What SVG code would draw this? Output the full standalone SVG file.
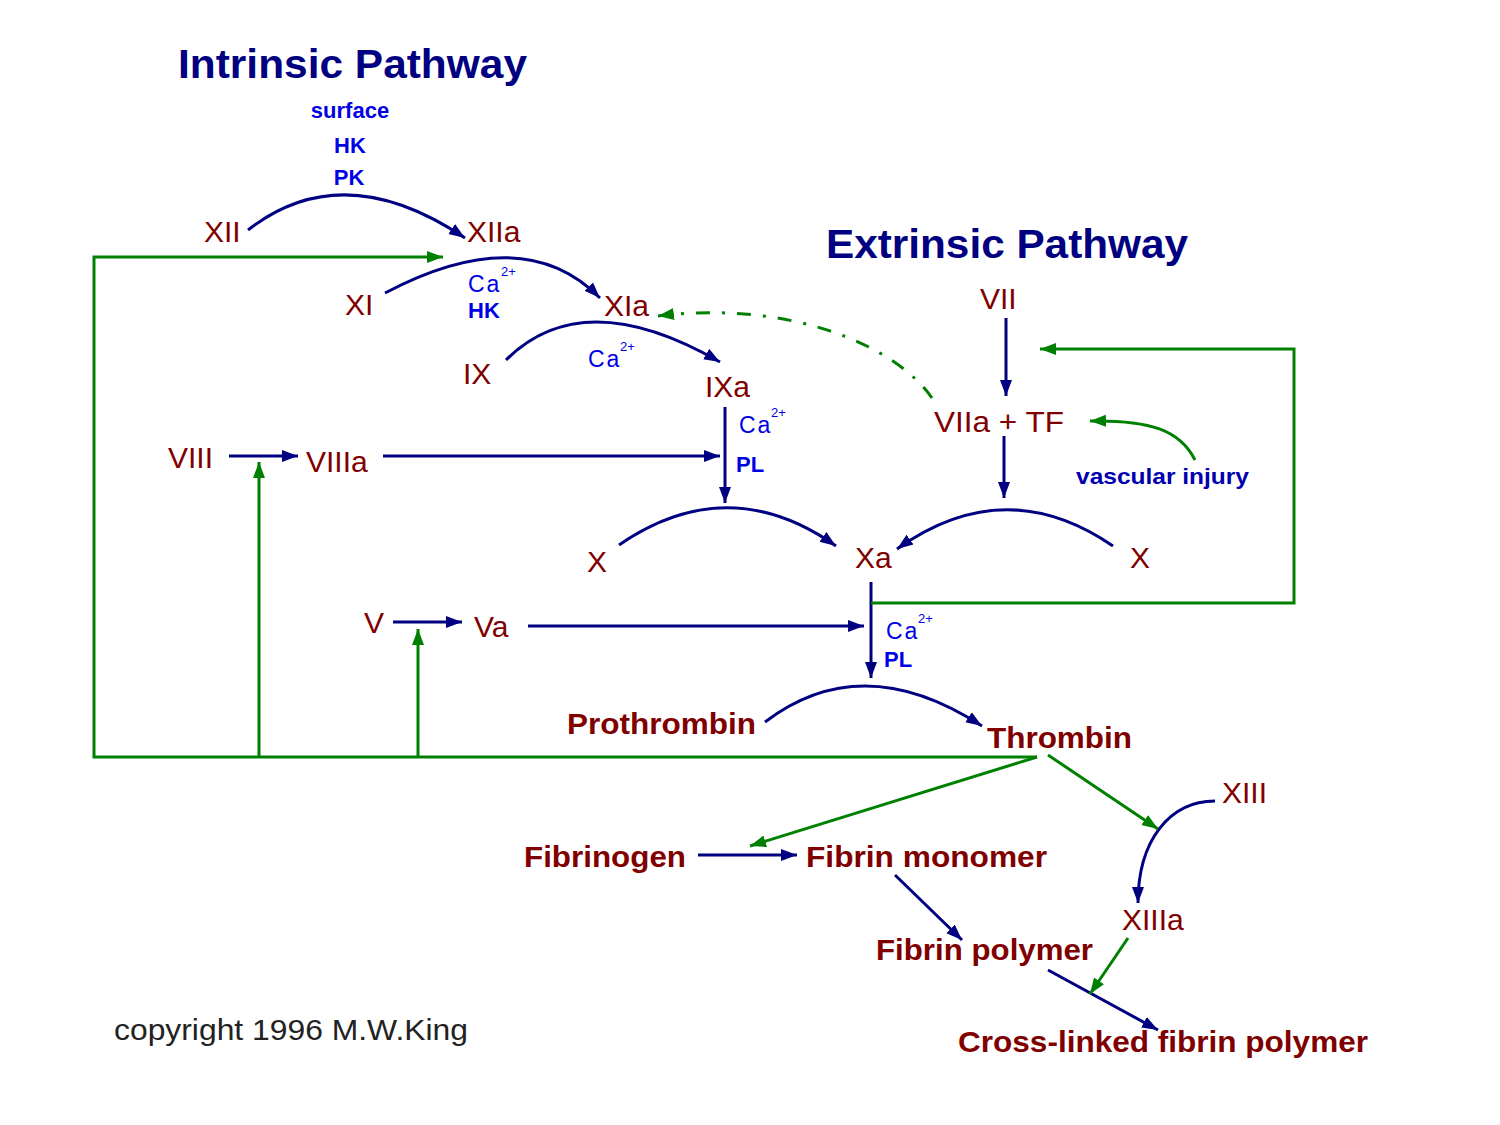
<svg xmlns="http://www.w3.org/2000/svg" width="1500" height="1125" viewBox="0 0 1500 1125">
<style>
.n{font-family:"Liberation Sans",Arial,sans-serif;font-size:30px;fill:#800000}
.b{font-weight:bold}
.t{font-family:"Liberation Sans",Arial,sans-serif;font-size:40px;font-weight:bold;fill:#000080}
.c{font-family:"Liberation Sans",Arial,sans-serif;font-size:22px;font-weight:bold;fill:#0000e6}
.ca{font-family:"Liberation Sans",Arial,sans-serif;font-size:23px;fill:#0000e6}
.sup{font-family:"Liberation Sans",Arial,sans-serif;font-size:13px;fill:#0000e6}
.nv{fill:none;stroke:#000080;stroke-width:3}
.gr{fill:none;stroke:#008000;stroke-width:3}
</style>
<defs>
<marker id="an" markerUnits="userSpaceOnUse" markerWidth="18" markerHeight="14" refX="16" refY="7" orient="auto"><path d="M0,1 L16,7 L0,13 Z" fill="#000080"/></marker>
<marker id="ag" markerUnits="userSpaceOnUse" markerWidth="18" markerHeight="14" refX="16" refY="7" orient="auto"><path d="M0,1 L16,7 L0,13 Z" fill="#008000"/></marker>
</defs>
<rect width="1500" height="1125" fill="#fff"/>

<g id="connectors">
<!-- navy conversions -->
<path class="nv" d="M248,230 Q343,156 465,238" marker-end="url(#an)"/>
<path class="nv" d="M385,293 Q523,220 600,298" marker-end="url(#an)"/>
<path class="nv" d="M506,360 Q583,283 720,362" marker-end="url(#an)"/>
<path class="nv" d="M725,407 L725,503" marker-end="url(#an)"/>
<path class="nv" d="M229,456 L298,456" marker-end="url(#an)"/>
<path class="nv" d="M383,456 L720,456" marker-end="url(#an)"/>
<path class="nv" d="M619,545 Q728,470 836,546" marker-end="url(#an)"/>
<path class="nv" d="M1113,546 Q1005,472 897,549" marker-end="url(#an)"/>
<path class="nv" d="M1006,318 L1006,396" marker-end="url(#an)"/>
<path class="nv" d="M1004,436 L1004,498" marker-end="url(#an)"/>
<path class="nv" d="M871,582 L871,678" marker-end="url(#an)"/>
<path class="nv" d="M393,622 L462,622" marker-end="url(#an)"/>
<path class="nv" d="M528,626 L864,626" marker-end="url(#an)"/>
<path class="nv" d="M765,722 Q862,648 982,726" marker-end="url(#an)"/>
<path class="nv" d="M698,855 L797,855" marker-end="url(#an)"/>
<path class="nv" d="M895,875 L962,940" marker-end="url(#an)"/>
<path class="nv" d="M1048,970 L1158,1030" marker-end="url(#an)"/>
<path class="nv" d="M1215,801 C1170,801 1138,840 1138,903" marker-end="url(#an)"/>
<!-- green feedback -->
<path class="gr" d="M1037,757 L94,757 L94,257 L443,257" marker-end="url(#ag)"/>
<path class="gr" d="M259,757 L259,462" marker-end="url(#ag)"/>
<path class="gr" d="M418,757 L418,629" marker-end="url(#ag)"/>
<path class="gr" d="M871,603 L1294,603 L1294,349 L1040,349" marker-end="url(#ag)"/>
<path class="gr" d="M932,398 C895,345 790,300 658,316" stroke-dasharray="14 12 3 12" marker-end="url(#ag)"/>
<path class="gr" d="M1195,460 C1180,430 1150,420 1090,421" marker-end="url(#ag)"/>
<path class="gr" d="M1037,757 L750,846" marker-end="url(#ag)"/>
<path class="gr" d="M1048,755 L1158,829" marker-end="url(#ag)"/>
<path class="gr" d="M1128,938 L1090,994" marker-end="url(#ag)"/>
</g>

<g id="titles">
<text class="t" x="178" y="78" textLength="349" lengthAdjust="spacingAndGlyphs">Intrinsic Pathway</text>
<text class="t" x="826" y="258" textLength="362" lengthAdjust="spacingAndGlyphs">Extrinsic Pathway</text>
</g>

<g id="cofactors">
<text class="c" x="350" y="118" text-anchor="middle">surface</text>
<text class="c" x="350" y="153" text-anchor="middle">HK</text>
<text class="c" x="349" y="185" text-anchor="middle">PK</text>
<text class="ca" x="468" y="292" letter-spacing="2">Ca</text><text class="sup" x="501" y="276">2+</text>
<text class="c" x="468" y="318">HK</text>
<text class="ca" x="588" y="367" letter-spacing="2">Ca</text><text class="sup" x="620" y="351">2+</text>
<text class="ca" x="739" y="433" letter-spacing="2">Ca</text><text class="sup" x="771" y="417">2+</text>
<text class="c" x="736" y="472">PL</text>
<text class="ca" x="886" y="639" letter-spacing="2">Ca</text><text class="sup" x="918" y="623">2+</text>
<text class="c" x="884" y="667">PL</text>
<text class="c" x="1076" y="484" fill="#0000b0" style="fill:#0000b0" textLength="173" lengthAdjust="spacingAndGlyphs">vascular injury</text>
</g>

<g id="node-XII"><text class="n" x="204" y="242">XII</text></g>
<g id="node-XIIa"><text class="n" x="467" y="242">XIIa</text></g>
<g id="node-XI"><text class="n" x="345" y="315">XI</text></g>
<g id="node-XIa"><text class="n" x="604" y="316">XIa</text></g>
<g id="node-IX"><text class="n" x="463" y="384">IX</text></g>
<g id="node-IXa"><text class="n" x="705" y="397">IXa</text></g>
<g id="node-VIII"><text class="n" x="168" y="468">VIII</text></g>
<g id="node-VIIIa"><text class="n" x="306" y="472">VIIIa</text></g>
<g id="node-X-left"><text class="n" x="587" y="572">X</text></g>
<g id="node-Xa"><text class="n" x="855" y="568">Xa</text></g>
<g id="node-X-right"><text class="n" x="1130" y="568">X</text></g>
<g id="node-VII"><text class="n" x="980" y="309">VII</text></g>
<g id="node-VIIa-TF"><text class="n" x="934" y="432" textLength="130" lengthAdjust="spacingAndGlyphs">VIIa + TF</text></g>
<g id="node-V"><text class="n" x="364" y="633">V</text></g>
<g id="node-Va"><text class="n" x="474" y="637">Va</text></g>
<g id="node-Prothrombin"><text class="n b" x="567" y="734" textLength="189" lengthAdjust="spacingAndGlyphs">Prothrombin</text></g>
<g id="node-Thrombin"><text class="n b" x="987" y="748" textLength="145" lengthAdjust="spacingAndGlyphs">Thrombin</text></g>
<g id="node-XIII"><text class="n" x="1222" y="803">XIII</text></g>
<g id="node-Fibrinogen"><text class="n b" x="524" y="867" textLength="162" lengthAdjust="spacingAndGlyphs">Fibrinogen</text></g>
<g id="node-Fibrin-monomer"><text class="n b" x="806" y="867" textLength="241" lengthAdjust="spacingAndGlyphs">Fibrin monomer</text></g>
<g id="node-XIIIa"><text class="n" x="1122" y="930">XIIIa</text></g>
<g id="node-Fibrin-polymer"><text class="n b" x="876" y="960" textLength="217" lengthAdjust="spacingAndGlyphs">Fibrin polymer</text></g>
<g id="node-Cross-linked"><text class="n b" x="958" y="1052" textLength="410" lengthAdjust="spacingAndGlyphs">Cross-linked fibrin polymer</text></g>

<g id="copyright"><text x="114" y="1040" font-family="Liberation Sans, Arial, sans-serif" font-size="29" fill="#222" textLength="354" lengthAdjust="spacingAndGlyphs">copyright 1996 M.W.King</text></g>
</svg>
